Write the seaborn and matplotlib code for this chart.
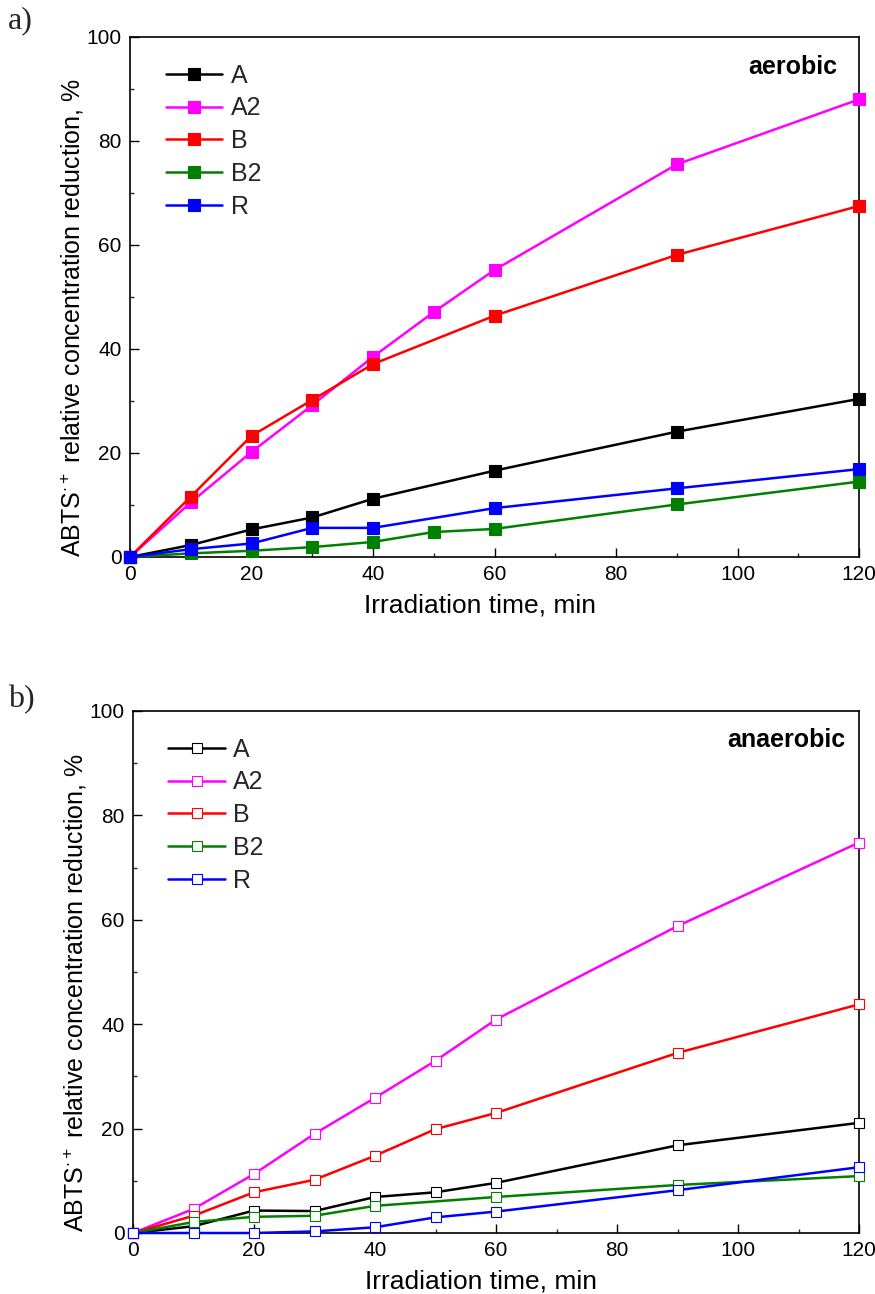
import numpy as np
import pandas as pd
import matplotlib
matplotlib.use("Agg")
import matplotlib.pyplot as plt
from matplotlib.ticker import MultipleLocator
import seaborn as sns

sns.set_theme(style="white")
plt.rcParams['font.family'] = ['Liberation Sans', 'DejaVu Sans']
plt.rcParams['mathtext.fontset'] = 'custom'
plt.rcParams['mathtext.rm'] = 'Liberation Sans'
plt.rcParams['mathtext.it'] = 'Liberation Sans'

series_names = ["A", "A2", "B", "B2", "R"]
colors = ["black", "#ff00ff", "#ff0000", "#008000", "#0000ff"]

# Panel a (aerobic)
a_A_x = [0, 10, 20, 30, 40, 60, 90, 120]
a_A_y = [0, 2.3, 5.3, 7.6, 11.2, 16.6, 24.1, 30.4]
a_A2_x = [0, 10, 20, 30, 40, 50, 60, 90, 120]
a_A2_y = [0, 10.5, 20.2, 29.2, 38.5, 47.1, 55.2, 75.5, 88.0]
a_B_x = [0, 10, 20, 30, 40, 60, 90, 120]
a_B_y = [0, 11.6, 23.3, 30.2, 37.1, 46.4, 58.1, 67.5]
a_B2_x = [0, 10, 20, 30, 40, 50, 60, 90, 120]
a_B2_y = [0, 0.7, 1.2, 1.9, 2.9, 4.8, 5.4, 10.1, 14.5]
a_R_x = [0, 10, 20, 30, 40, 60, 90, 120]
a_R_y = [0, 1.5, 2.6, 5.6, 5.6, 9.4, 13.2, 16.9]

# Panel b (anaerobic)
b_A_x = [0, 10, 20, 30, 40, 50, 60, 90, 120]
b_A_y = [0, 1.3, 4.3, 4.2, 6.9, 7.8, 9.6, 16.8, 21.1]
b_A2_x = [0, 10, 20, 30, 40, 50, 60, 90, 120]
b_A2_y = [0, 4.6, 11.3, 19.0, 25.9, 33.0, 40.9, 58.8, 74.8]
b_B_x = [0, 10, 20, 30, 40, 50, 60, 90, 120]
b_B_y = [0, 3.3, 7.8, 10.2, 14.8, 19.9, 23.0, 34.5, 43.8]
b_B2_x = [0, 10, 20, 30, 40, 60, 90, 120]
b_B2_y = [0, 2.1, 3.1, 3.3, 5.2, 6.9, 9.2, 10.9]
b_R_x = [0, 10, 20, 30, 40, 50, 60, 90, 120]
b_R_y = [0, 0.0, 0.0, 0.3, 1.1, 3.0, 4.1, 8.2, 12.6]

panel_a = [(a_A_x, a_A_y), (a_A2_x, a_A2_y), (a_B_x, a_B_y), (a_B2_x, a_B2_y), (a_R_x, a_R_y)]
panel_b = [(b_A_x, b_A_y), (b_A2_x, b_A2_y), (b_B_x, b_B_y), (b_B2_x, b_B2_y), (b_R_x, b_R_y)]

x_ticks = [0, 20, 40, 60, 80, 100, 120]
y_ticks = [0, 20, 40, 60, 80, 100]
xlabel = "Irradiation time, min"
ylabel = r"ABTS$^{\cdot+}$ relative concentration reduction, %"

fig = plt.figure(figsize=(8.75, 12.94), dpi=100)
W, H = 875, 1294
def rect(l, t, r, b):
    return [l / W, 1 - b / H, (r - l) / W, (b - t) / H]

ax_a = fig.add_axes(rect(130, 37, 859, 557))
ax_b = fig.add_axes(rect(133, 711, 859, 1233))

def draw(ax, data, filled, title, title_x, title_y):
    for name, col, (xs, ys) in zip(series_names, colors, data):
        df = pd.DataFrame({"x": xs, "y": ys})
        face = col if filled else "white"
        sns.lineplot(data=df, x="x", y="y", ax=ax, color=col, lw=1.8,
                     marker="s", markersize=8 if filled else 7.5,
                     markerfacecolor=face,
                     markeredgecolor=col, markeredgewidth=0.8,
                     label=name, clip_on=False, zorder=3)
    ax.set_xlim(0, 120)
    ax.set_ylim(0, 100)
    ax.set_xticks(x_ticks)
    ax.set_yticks(y_ticks)
    ax.xaxis.set_minor_locator(MultipleLocator(10))
    ax.yaxis.set_minor_locator(MultipleLocator(10))
    ax.tick_params(which="major", direction="in", length=6.5, width=1.0,
                   labelsize=15, pad=6, colors="black")
    ax.tick_params(which="minor", direction="in", length=3, width=1.0)
    ax.tick_params(axis="both", which="both", bottom=True, left=True, top=False, right=False)
    for sp in ax.spines.values():
        sp.set_visible(True)
        sp.set_color("black")
        sp.set_linewidth(1.2)
    ax.set_xlabel(xlabel, fontsize=19, color="black")
    ax.set_ylabel(ylabel, fontsize=18, color="black")
    ax.xaxis.set_label_coords(0.48, -0.07)
    ax.yaxis.set_label_coords(-0.06, 0.46)
    ax.grid(False)
    ax.set_facecolor("white")
    ax.legend(loc="upper left", frameon=False, fontsize=18,
              handlelength=2.25, handletextpad=0.35, labelspacing=0.35,
              borderaxespad=0.0, bbox_to_anchor=(0.035, 0.968))
    ax.text(title_x, title_y, title, transform=ax.transAxes, ha="right", va="center",
            fontsize=18, fontweight="bold", color="black")

draw(ax_a, panel_a, True, "aerobic", 0.97, 0.942)
draw(ax_b, panel_b, False, "anaerobic", 0.981, 0.944)

fig.text(8 / W, 1 - 21 / H, "a)", family=["Liberation Serif"], fontsize=23, va="center", ha="left")
fig.text(8 / W, 1 - 700 / H, "b)", family=["Liberation Serif"], fontsize=23, va="center", ha="left")

fig.savefig("out.png", dpi=100, facecolor="white")
